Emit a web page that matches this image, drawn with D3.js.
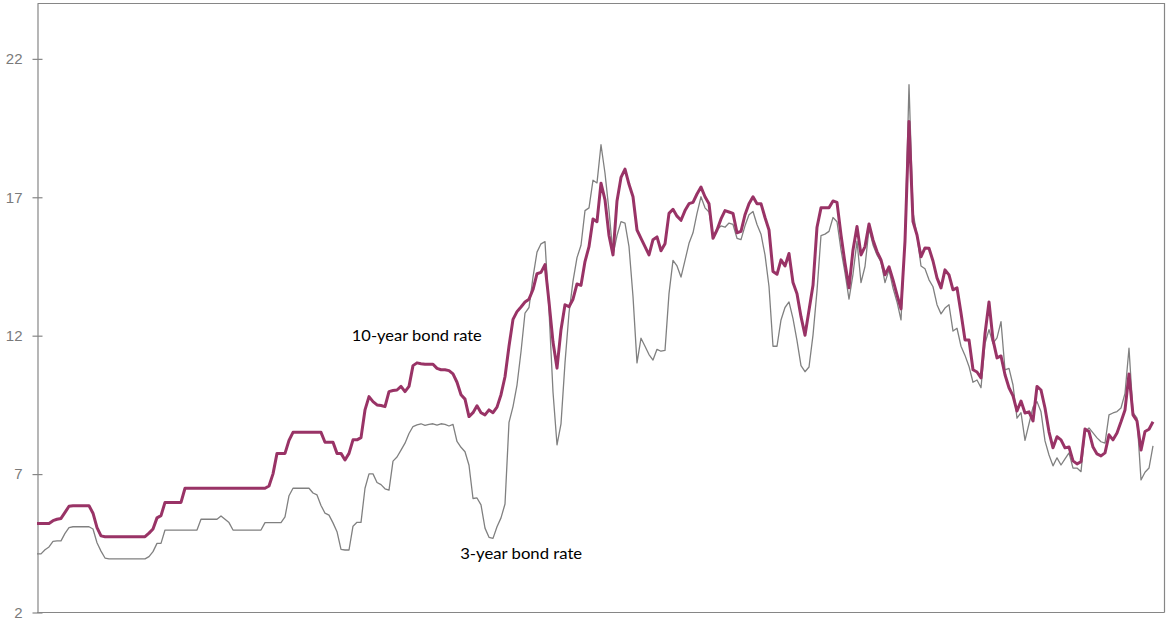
<!DOCTYPE html>
<html>
<head>
<meta charset="utf-8">
<script src="https://cdn.jsdelivr.net/npm/d3@7/dist/d3.min.js"></script>
<style>
  html, body { margin: 0; padding: 0; background: #ffffff; }
  svg { display: block; }
</style>
</head>
<body>
<svg id="chart" width="1166" height="619"></svg>
<script>
// ---- Data (one sample per period) ----
const tenYear = [
  5.2, 5.2, 5.2, 5.2, 5.3, 5.35, 5.38, 5.6, 5.82, 5.84,
  5.84, 5.84, 5.84, 5.84, 5.57, 5.05, 4.75, 4.72, 4.72, 4.72,
  4.72, 4.72, 4.72, 4.72, 4.72, 4.72, 4.72, 4.72, 4.85, 5.0,
  5.4, 5.48, 5.96, 5.96, 5.96, 5.96, 5.96, 6.47, 6.47, 6.47,
  6.47, 6.47, 6.47, 6.47, 6.47, 6.47, 6.47, 6.47, 6.47, 6.47,
  6.47, 6.47, 6.47, 6.47, 6.47, 6.47, 6.47, 6.47, 6.55, 6.99,
  7.73, 7.73, 7.73, 8.2, 8.49, 8.49, 8.49, 8.49, 8.49, 8.49,
  8.49, 8.49, 8.13, 8.13, 8.13, 7.73, 7.73, 7.49, 7.73, 8.22,
  8.22, 8.3, 9.3, 9.78, 9.6, 9.48, 9.46, 9.42, 9.96, 10.0,
  10.02, 10.15, 9.96, 10.15, 10.9, 11.0, 10.97, 10.95, 10.95, 10.95,
  10.8, 10.75, 10.75, 10.72, 10.6, 10.3, 9.85, 9.69, 9.06, 9.2,
  9.45, 9.2, 9.12, 9.3, 9.2, 9.4, 9.85, 10.5, 11.6, 12.57,
  12.85, 13.02, 13.2, 13.3, 13.65, 14.22, 14.27, 14.55, 13.2, 11.75,
  10.81, 12.2, 13.1, 13.03, 13.3, 13.85, 13.8, 14.66, 15.2, 16.2,
  16.1, 17.49, 16.89, 15.6, 14.9, 16.85, 17.7, 18.0, 17.45, 17.0,
  15.8, 15.5, 15.2, 14.9, 15.45, 15.55, 15.05, 15.3, 16.4, 16.55,
  16.3, 16.15, 16.5, 16.75, 16.8, 17.1, 17.35, 17.0, 16.75, 15.5,
  15.8, 16.2, 16.5, 16.45, 16.4, 15.7, 15.75, 16.35, 16.75, 17.0,
  16.75, 16.75, 16.25, 15.8, 14.3, 14.2, 14.72, 14.5, 14.95, 13.9,
  13.5, 12.67, 12.0, 12.9, 13.8, 15.9, 16.6, 16.6, 16.6, 16.85,
  16.8, 15.62, 14.6, 13.71, 15.08, 15.93, 14.9, 15.2, 16.02, 15.44,
  15.02, 14.72, 14.18, 14.47, 14.0, 13.46, 12.95, 15.4, 19.72, 16.1,
  15.62, 14.83, 15.15, 15.14, 14.68, 14.07, 13.71, 14.36, 14.18, 13.64,
  13.71, 12.8, 11.83, 11.83, 10.75, 10.67, 10.46, 12.05, 13.2, 11.83,
  11.18, 11.25, 10.57, 10.1, 9.81, 9.26, 9.62, 9.19, 9.23, 8.9,
  10.15, 10.02, 9.37, 8.51, 7.93, 8.33, 8.22, 7.93, 7.96, 7.46,
  7.35, 7.43, 8.61, 8.52, 7.96, 7.71, 7.64, 7.75, 8.4, 8.22,
  8.47, 8.87, 9.3, 10.6, 9.12, 8.9, 7.85, 8.52, 8.6, 8.87
];

const threeYear = [
  4.1, 4.1, 4.25, 4.35, 4.55, 4.57, 4.57, 4.84, 5.05, 5.08,
  5.08, 5.08, 5.08, 5.08, 5.0, 4.5, 4.2, 3.95, 3.92, 3.92,
  3.92, 3.92, 3.92, 3.92, 3.92, 3.92, 3.92, 3.92, 4.0, 4.18,
  4.48, 4.48, 4.96, 4.96, 4.96, 4.96, 4.96, 4.96, 4.96, 4.96,
  4.96, 5.35, 5.35, 5.35, 5.35, 5.35, 5.47, 5.35, 5.23, 4.96,
  4.96, 4.96, 4.96, 4.96, 4.96, 4.96, 4.96, 5.23, 5.23, 5.23,
  5.23, 5.23, 5.44, 6.2, 6.47, 6.47, 6.47, 6.47, 6.47, 6.3,
  6.23, 5.85, 5.57, 5.5, 5.22, 4.9, 4.26, 4.24, 4.24, 5.1,
  5.24, 5.24, 6.47, 6.99, 6.99, 6.68, 6.6, 6.45, 6.4, 7.45,
  7.6, 7.85, 8.1, 8.45, 8.7, 8.76, 8.8, 8.74, 8.78, 8.8,
  8.75, 8.8, 8.78, 8.72, 8.78, 8.16, 7.95, 7.79, 7.3, 6.1,
  6.12, 5.87, 5.03, 4.7, 4.66, 5.08, 5.4, 5.9, 8.85, 9.42,
  10.2, 11.4, 12.8, 13.0, 14.1, 15.0, 15.3, 15.38, 12.9, 9.95,
  8.04, 8.8, 11.0, 12.8, 13.95, 14.8, 15.25, 16.5, 16.6, 17.6,
  17.5, 18.88, 17.85, 16.5, 14.9, 15.6, 16.1, 16.05, 15.2, 13.4,
  11.0, 11.89, 11.6, 11.3, 11.1, 11.49, 11.42, 11.45, 13.5, 14.7,
  14.5, 14.1, 14.7, 15.32, 15.7, 16.4, 17.0, 16.6, 16.45, 15.6,
  15.8, 15.95, 15.9, 16.05, 16.0, 15.5, 15.45, 15.95, 16.35, 16.47,
  16.0, 15.65, 14.9, 13.76, 11.6, 11.6, 12.55, 13.0, 13.2, 12.6,
  11.8, 10.9, 10.68, 10.85, 12.0, 13.6, 15.6, 15.65, 15.75, 16.25,
  16.1, 15.08, 14.25, 13.3, 14.2, 15.4, 13.9, 14.48, 15.85, 15.26,
  14.9, 14.65, 13.9, 14.36, 13.7, 13.2, 12.55, 15.5, 21.05, 16.45,
  15.6, 14.5, 14.4, 14.0, 13.75, 13.1, 12.77, 12.98, 13.1, 12.15,
  12.25, 11.6, 11.27, 10.87, 10.3, 10.38, 10.1, 11.7, 12.2, 11.7,
  11.9, 12.49, 10.75, 10.8, 10.2, 9.0, 9.2, 8.2, 8.8, 9.4,
  9.6, 9.23, 8.18, 7.67, 7.28, 7.57, 7.31, 7.53, 7.75, 7.2,
  7.2, 7.07, 8.5, 8.65, 8.47, 8.29, 8.15, 8.1, 9.12, 9.19,
  9.24, 9.37, 9.9, 11.53, 9.2, 9.0, 6.77, 7.05, 7.2, 8.0
];

const periods = d3.range(tenYear.length);
const yTicks = [2, 7, 12, 17, 22];
const seriesNames = ["10-year bond rate", "3-year bond rate"];
// label anchors in data units: [period, rate]
const labelAnchors = [[78.7, 11.8], [105.8, 3.9]];
const labelWidths = [130, 122];

// ---- Layout ----
const svg = d3.select("#chart");
const plot = { left: 37, right: 1164, top: 3, bottom: 612 };

const x = d3.scaleLinear().domain([0, 281.75]).range([plot.left, plot.right]);
const y = d3.scaleLinear().domain([2, 24]).range([plot.bottom, plot.top]);

const axisColor = "#868686";

// frame (top and right edges)
svg.append("path")
  .attr("d", `M${plot.left + 0.5},${plot.top + 0.5}H${plot.right + 0.5}V${plot.bottom + 0.5}`)
  .attr("fill", "none")
  .attr("stroke", axisColor)
  .attr("stroke-width", 1.2);

// bottom axis line
svg.append("line")
  .attr("x1", plot.left).attr("x2", plot.right + 0.5)
  .attr("y1", plot.bottom + 0.5).attr("y2", plot.bottom + 0.5)
  .attr("stroke", axisColor).attr("stroke-width", 1.2);

// left axis
const yAxis = d3.axisLeft(y)
  .tickValues(yTicks)
  .tickFormat(d3.format("d"))
  .tickSizeInner(5)
  .tickSizeOuter(0)
  .tickPadding(10);

const gy = svg.append("g")
  .attr("transform", `translate(${plot.left + 0.5},0.5)`)
  .call(yAxis);
gy.select(".domain").attr("stroke", axisColor).attr("stroke-width", 1.2);
gy.selectAll(".tick line").attr("stroke", axisColor).attr("stroke-width", 1.2)
  .attr("x1", -5).attr("x2", 5);
gy.selectAll(".tick text")
  .attr("fill", "#7a7a7a")
  .style("font-family", "'Liberation Sans', Arial, sans-serif")
  .style("font-size", "15px");

// lines
const line = d3.line()
  .x((d, i) => x(periods[i]))
  .y(d => y(d));

svg.append("path")
  .datum(threeYear)
  .attr("fill", "none")
  .attr("stroke", "#808080")
  .attr("stroke-width", 1.3)
  .attr("stroke-linejoin", "round")
  .attr("d", line);

svg.append("path")
  .datum(tenYear)
  .attr("fill", "none")
  .attr("stroke", "#993366")
  .attr("stroke-width", 3)
  .attr("stroke-linejoin", "round")
  .attr("d", line);

// series labels
svg.selectAll("text.series-label")
  .data(seriesNames)
  .join("text")
  .attr("class", "series-label")
  .attr("x", (d, i) => x(labelAnchors[i][0]))
  .attr("y", (d, i) => y(labelAnchors[i][1]))
  .attr("textLength", (d, i) => labelWidths[i])
  .attr("lengthAdjust", "spacingAndGlyphs")
  .attr("fill", "#000000")
  .style("font-family", "Lato, 'Open Sans', sans-serif")
  .style("font-size", "16px")
  .text(d => d);
</script>
</body>
</html>
